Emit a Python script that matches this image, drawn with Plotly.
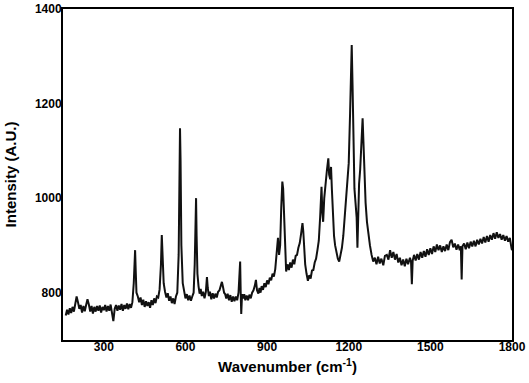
import plotly.graph_objects as go

wavenumber = [
    160, 165, 170, 175, 180, 185, 190, 195, 200, 205, 210, 215, 220, 225, 230, 235, 240, 245, 250, 255,
    260, 265, 270, 275, 280, 285, 290, 295, 300, 305, 310, 315, 320, 325, 330, 335, 340, 345, 350, 355,
    360, 365, 370, 375, 380, 385, 390, 395, 400, 405, 410, 413, 415, 417, 420, 425, 430, 435, 440, 445,
    450, 455, 460, 465, 470, 475, 480, 485, 490, 495, 500, 505, 510, 513, 516, 520, 525, 530, 535, 540,
    545, 550, 555, 560, 565, 570, 575, 578, 580, 582, 585, 590, 595, 600, 605, 610, 615, 620, 625, 630,
    634, 637, 639, 641, 644, 648, 652, 656, 660, 665, 670, 675, 679, 682, 686, 690, 695, 700, 705, 710,
    715, 720, 725, 730, 734, 738, 742, 746, 750, 755, 760, 765, 770, 775, 780, 785, 790, 795, 799, 801,
    803, 805, 808, 812, 816, 820, 825, 830, 835, 840, 845, 850, 855, 859, 863, 868, 872, 876, 880, 885,
    890, 895, 900, 905, 910, 915, 920, 925, 930, 935, 940, 944, 948, 952, 956, 959, 962, 966, 970, 975,
    980, 985, 990, 995, 1000, 1005, 1010, 1015, 1020, 1025, 1030, 1033, 1036, 1040, 1045, 1050, 1055, 1060, 1065, 1070,
    1075, 1080, 1085, 1090, 1095, 1100, 1103, 1106, 1110, 1115, 1120, 1125, 1128, 1132, 1135, 1138, 1142, 1146, 1150, 1155,
    1160, 1165, 1170, 1175, 1180, 1185, 1190, 1195, 1200, 1205, 1208, 1211, 1214, 1217, 1221, 1225, 1229, 1232, 1235, 1238,
    1242, 1246, 1249, 1251, 1254, 1258, 1262, 1267, 1272, 1278, 1284, 1290, 1296, 1302, 1308, 1314, 1320, 1327, 1333, 1340,
    1346, 1352, 1358, 1364, 1370, 1376, 1382, 1388, 1394, 1400, 1406, 1412, 1418, 1425, 1429, 1432, 1435, 1440, 1446, 1452,
    1458, 1464, 1470, 1476, 1482, 1488, 1494, 1500, 1506, 1512, 1518, 1524, 1530, 1536, 1542, 1548, 1554, 1560, 1566, 1572,
    1578, 1584, 1590, 1596, 1602, 1608, 1612, 1615, 1618, 1624, 1630, 1636, 1642, 1648, 1654, 1660, 1666, 1672, 1678, 1684,
    1690, 1696, 1702, 1708, 1714, 1720, 1726, 1732, 1738, 1744, 1750, 1756, 1762, 1768, 1774, 1780, 1786, 1792, 1798, 1800,
]

intensity = [
    752, 764, 754, 767, 757, 770, 760, 777, 792, 780, 766, 774, 758, 772, 761, 774, 786, 775, 760, 772,
    756, 770, 760, 772, 762, 773, 758, 770, 763, 774, 760, 772, 762, 775, 758, 740, 766, 774, 762, 773,
    764, 776, 762, 774, 766, 777, 765, 776, 768, 780, 820, 875, 890, 850, 800, 792, 780, 790, 774, 785,
    770, 782, 772, 780, 768, 784, 774, 788, 778, 792, 790, 807, 860, 922, 880, 820, 802, 790, 799, 783,
    792, 778, 788, 776, 792, 800, 880, 1050, 1148, 1080, 900, 820, 802, 788, 797, 784, 794, 783, 792, 800,
    860, 960, 1000, 920, 840, 814, 798, 808, 793, 802, 788, 802, 833, 810, 793, 802, 786, 799, 788, 798,
    790, 802, 805, 815, 823, 812, 800, 797, 788, 798, 784, 795, 781, 792, 782, 792, 784, 800, 840, 866,
    800, 755, 797, 788, 797, 784, 794, 784, 796, 788, 800, 805, 815, 827, 805, 798, 810, 800, 814, 806,
    820, 812, 826, 818, 832, 826, 840, 834, 850, 880, 916, 880, 900, 980, 1035, 1020, 960, 880, 845, 860,
    848, 864, 853, 870, 860, 878, 880, 895, 905, 925, 947, 930, 900, 860, 840, 825, 837, 830, 847, 848,
    864, 872, 890, 910, 960, 1024, 970, 950, 1000, 1040, 1060, 1084, 1050, 1040, 1066, 1020, 960, 920, 900, 885,
    872, 866, 878, 895, 920, 960, 1011, 1040, 1074, 1180, 1260, 1324, 1240, 1100, 1020, 990, 960, 895, 1000, 1030,
    1060, 1120, 1150, 1169, 1120, 1030, 990, 950, 920, 900, 880, 866, 874, 860, 876, 862, 872, 858, 878, 880,
    870, 890, 874, 886, 870, 882, 864, 874, 858, 870, 856, 872, 860, 874, 865, 818, 868, 880, 868, 882,
    870, 886, 874, 888, 876, 892, 880, 894, 882, 898, 886, 902, 890, 900, 886, 898, 888, 902, 890, 907,
    912, 896, 904, 891, 902, 890, 898, 828, 898, 904, 892, 906, 894, 908, 898, 910, 898, 912, 902, 914,
    904, 918, 906, 920, 908, 922, 912, 926, 914, 928, 916, 924, 912, 922, 910, 920, 908, 916, 895, 890,
]

x_ticks = [300, 600, 900, 1200, 1500, 1800]
y_ticks = [800, 1000, 1200, 1400]

fig = go.Figure()
fig.add_trace(go.Scatter(
    x=wavenumber, y=intensity, mode="lines",
    line=dict(color="#111111", width=2.0),
    showlegend=False,
))

font_family = "Liberation Sans, Arial, sans-serif"

fig.update_layout(
    width=529, height=383,
    margin=dict(l=63, r=17, t=9, b=43),
    paper_bgcolor="white", plot_bgcolor="white",
    font=dict(family=font_family, color="black"),
)
fig.update_xaxes(
    range=[150, 1800], tickvals=x_ticks, ticks="", showgrid=False, zeroline=False,
    showline=True, linecolor="black", linewidth=2, mirror=True, automargin=False,
    ticklabelstandoff=-5,
    tickfont=dict(size=12, weight="bold", family=font_family),
    title=dict(text="<b>Wavenumber (cm<sup>-1</sup>)</b>", font=dict(size=15, family=font_family), standoff=8),
)
fig.update_yaxes(
    range=[700, 1400], tickvals=y_ticks, ticks="", showgrid=False, zeroline=False,
    showline=True, linecolor="black", linewidth=2, mirror=True, automargin=False,
    ticklabelstandoff=-3,
    tickfont=dict(size=12, weight="bold", family=font_family),
    title=dict(text="<b>Intensity (A.U.)</b>", font=dict(size=15, family=font_family), standoff=15),
)

fig.write_html(
    "out.html",
    config={"displayModeBar": False},
    post_script="document.body.style.margin='0';document.body.style.padding='0';",
)
